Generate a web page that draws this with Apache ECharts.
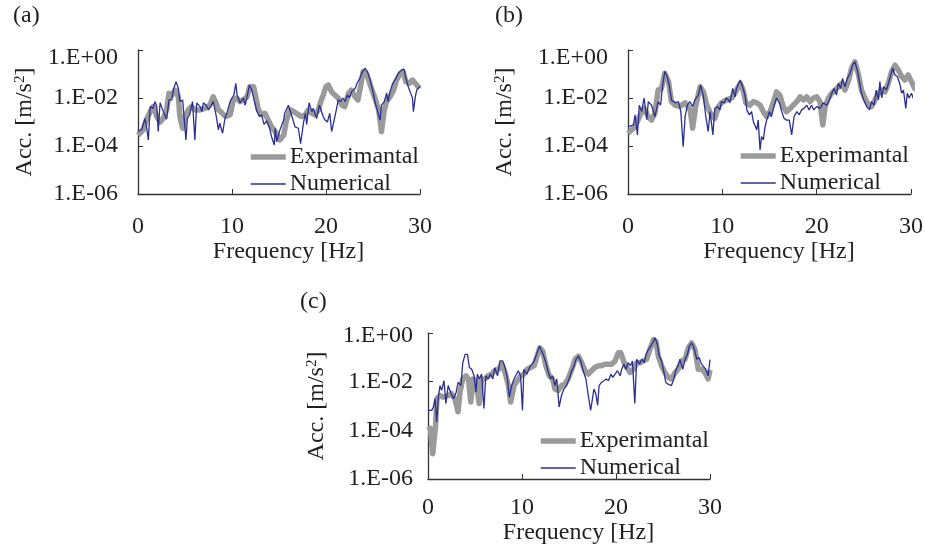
<!DOCTYPE html>
<html><head><meta charset="utf-8">
<script src="https://cdn.jsdelivr.net/npm/echarts@6/dist/echarts.min.js"></script>
<style>html,body{margin:0;padding:0;background:#fff}#c{width:925px;height:549px}</style>
</head><body><div id="c"></div>
<script>
// ---- data ----
const seriesNames = ['Experimantal', 'Numerical'];
const panelLabels = ['(a)', '(b)', '(c)'];
const xTicks = [0, 10, 20, 30];
const yTickLabels = ['1.E-06', '1.E-04', '1.E-02', '1.E+00'];

// Panel (a) [frequency Hz, acceleration m/s2]
const aExperimental = [[0,2.8e-4],[0.55,4.7e-4],[0.9,1.26e-3],[1.3,2.7e-3],[1.6,4.4e-3],[2.0,1.7e-3],[2.35,1e-3],[2.7,1.4e-3],[3.05,3.2e-3],[3.3,0.0158],[3.6,0.0132],[3.95,0.0214],[4.3,0.0112],[4.45,1.7e-3],[4.75,5.5e-4],[5.0,1.7e-3],[5.35,3.2e-3],[5.7,4.4e-3],[6.05,3.2e-3],[6.6,3.2e-3],[7.1,3.7e-3],[7.65,5e-3],[8.0,0.0112],[8.3,6.3e-3],[8.55,3.2e-3],[8.8,2.7e-3],[9.1,2e-3],[9.4,1.7e-3],[9.8,2e-3],[10.15,8.3e-3],[10.5,0.01],[10.85,7.1e-3],[11.2,8.3e-3],[11.6,0.0112],[11.9,0.0295],[12.3,0.0295],[12.55,0.01],[12.8,3.2e-3],[13.15,2e-3],[13.5,2.3e-3],[13.9,1.1e-3],[14.2,6.3e-4],[14.6,4e-4],[15.1,1.8e-4],[15.5,2.8e-4],[15.8,1.2e-3],[16.17,3.2e-3],[16.6,2.7e-3],[17.06,2e-3],[17.4,1.7e-3],[17.8,2e-3],[18.1,3.2e-3],[18.5,2.3e-3],[18.8,2e-3],[19.2,3.2e-3],[19.4,6.3e-3],[19.7,0.0132],[20.0,0.0295],[20.25,0.0347],[20.6,0.018],[20.95,0.0132],[21.3,0.01],[21.7,5e-3],[22.0,4.4e-3],[22.4,0.0158],[22.7,0.0214],[23.1,0.0112],[23.4,8.3e-3],[23.7,0.0347],[23.95,0.126],[24.3,0.107],[24.6,0.048],[24.9,0.0214],[25.2,0.01],[25.6,3.2e-3],[25.9,4e-4],[26.2,3.2e-3],[26.45,7.1e-3],[26.8,0.0112],[27.2,0.0214],[27.5,0.056],[27.9,0.107],[28.2,0.126],[28.5,0.048],[28.85,0.041],[29.2,0.056],[29.65,0.0347],[29.95,0.025]];
const aNumerical = [[0,4e-4],[0.4,5e-4],[0.75,1.4e-3],[0.9,6.3e-4],[1.1,1.8e-4],[1.3,4.4e-3],[1.45,5e-3],[1.6,3.7e-3],[1.8,7.1e-3],[2.0,4.4e-3],[2.15,4e-4],[2.35,6.3e-3],[2.7,2.7e-3],[3.05,1.3e-3],[3.3,8.3e-3],[3.6,8.3e-3],[3.75,0.0214],[4.05,0.048],[4.3,0.025],[4.45,7.1e-3],[4.75,8.3e-3],[5.1,1.8e-4],[5.25,1.4e-3],[5.5,2e-3],[5.8,7.1e-3],[6.05,1.8e-4],[6.25,6.3e-3],[6.6,4.4e-3],[6.8,2.7e-3],[6.95,6.3e-3],[7.25,5e-3],[7.5,3.2e-3],[7.8,5e-3],[8.0,7.1e-3],[8.3,2e-3],[8.55,4.7e-4],[8.7,8.9e-4],[9.0,3.4e-4],[9.25,1.4e-3],[9.5,2.7e-3],[9.8,7.1e-3],[10.0,0.01],[10.2,0.0132],[10.4,0.041],[10.55,0.0132],[10.85,6.3e-3],[11.2,0.01],[11.4,5e-3],[11.6,0.0112],[11.85,0.0347],[12.1,0.0214],[12.35,8.3e-3],[12.6,3.2e-3],[12.9,1.7e-3],[13.15,2e-3],[13.4,7.9e-4],[13.7,1.1e-3],[14.0,5.5e-4],[14.2,2.5e-4],[14.4,2.5e-4],[14.5,1.1e-4],[14.6,5.5e-4],[14.75,1.5e-4],[15.1,4.7e-4],[15.5,1.2e-3],[15.6,2.3e-3],[16.0,5e-3],[16.17,5e-3],[16.45,1.4e-3],[16.7,6.3e-4],[17.06,5.5e-4],[17.3,1.26e-4],[17.6,8.9e-4],[17.8,2.3e-3],[17.95,7.9e-4],[18.2,6.3e-3],[18.5,2.7e-3],[18.65,3.7e-3],[19.0,1.4e-3],[19.3,5e-3],[19.4,4.4e-3],[19.7,1.7e-3],[19.9,1.2e-3],[20.15,1e-3],[20.4,2.3e-3],[20.6,4e-4],[20.8,8.9e-4],[20.95,1.7e-3],[21.1,3.2e-3],[21.3,8.3e-3],[21.55,7.1e-3],[21.8,0.01],[22.0,7.1e-3],[22.3,0.0132],[22.5,0.01],[22.7,0.018],[23.1,0.025],[23.3,0.041],[23.6,0.066],[23.9,0.126],[24.15,0.174],[24.4,0.126],[24.7,0.056],[25.0,0.018],[25.2,7.1e-3],[25.45,3.2e-3],[25.75,1.2e-3],[25.9,5e-3],[26.2,7.1e-3],[26.45,0.0158],[26.6,7.1e-3],[26.8,0.018],[27.1,0.041],[27.45,0.066],[27.7,0.107],[28.05,0.148],[28.3,0.158],[28.5,0.066],[28.75,0.0295],[28.95,0.018],[29.2,0.01],[29.3,2.7e-3],[29.5,0.0112],[29.65,0.0214],[29.8,0.018],[30.0,0.03]];

// Panel (b)
const bExperimental = [[0,3.4e-4],[0.75,6.3e-4],[1.3,2e-3],[1.7,3.7e-3],[2.15,1.66e-3],[2.5,1.2e-3],[2.85,2.3e-3],[3.2,0.0214],[3.55,0.025],[3.9,0.107],[4.3,0.048],[4.6,7.1e-3],[5.0,5e-3],[5.5,4.4e-3],[6.05,6.3e-3],[6.6,3.2e-3],[6.85,5.5e-4],[7.2,5e-3],[7.65,0.0295],[8.0,0.018],[8.35,5e-3],[8.75,2.3e-3],[9.2,1.4e-3],[9.6,4.4e-3],[9.9,6.3e-3],[10.45,8.3e-3],[11.0,0.01],[11.5,0.0214],[11.9,0.041],[12.2,0.0214],[12.5,6.3e-3],[12.9,5e-3],[13.3,7.1e-3],[13.65,6.3e-3],[14.0,5e-3],[14.35,2.7e-3],[14.7,1.66e-3],[15.05,2.7e-3],[15.4,6.3e-3],[15.75,0.018],[16.1,0.0132],[16.45,4.4e-3],[16.8,2.7e-3],[17.2,3.7e-3],[17.5,5e-3],[17.9,7.1e-3],[18.25,0.0112],[18.6,8.3e-3],[18.95,0.0112],[19.3,7.1e-3],[19.65,0.01],[20.0,0.0112],[20.35,7.1e-3],[20.65,7.6e-4],[20.9,4.4e-3],[21.25,0.01],[21.6,0.0158],[21.95,0.0214],[22.3,0.0295],[22.65,0.041],[23.0,0.0214],[23.35,0.048],[23.7,0.174],[24.05,0.324],[24.4,0.107],[24.75,0.0214],[25.1,0.01],[25.5,5e-3],[25.8,4.4e-3],[26.2,8.3e-3],[26.55,0.0158],[26.9,0.0214],[27.25,0.018],[27.6,0.041],[27.95,0.126],[28.3,0.234],[28.65,0.148],[29.0,0.079],[29.35,0.056],[29.7,0.091],[30.05,0.048],[30.4,0.025],[30.8,0.0347],[31.2,0.018]];
const bNumerical = [[0,6.3e-4],[0.57,7.6e-4],[0.75,2e-3],[1.0,2.9e-4],[1.2,5e-3],[1.45,2.7e-3],[1.7,0.01],[2.0,1.26e-3],[2.15,7.1e-3],[2.5,5e-3],[2.85,1.66e-3],[3.2,7.1e-3],[3.45,5e-3],[3.7,0.041],[3.9,0.126],[4.15,0.079],[4.4,0.0295],[4.6,8.3e-3],[5.0,6.3e-3],[5.35,7.1e-3],[5.6,2.7e-3],[5.85,9.3e-5],[6.05,1.66e-3],[6.3,5e-3],[6.55,7.1e-3],[6.85,4.4e-3],[7.1,8.3e-3],[7.45,0.0132],[7.7,0.0347],[8.0,0.0112],[8.25,1.66e-3],[8.5,4e-4],[8.7,2.7e-3],[9.0,2.9e-4],[9.2,3.7e-3],[9.5,4.4e-3],[9.75,3.2e-3],[9.9,7.1e-3],[10.2,6.3e-3],[10.4,0.01],[10.65,8.3e-3],[10.8,6.3e-3],[11.1,0.025],[11.35,0.0112],[11.5,0.025],[11.9,0.056],[12.15,0.0295],[12.4,0.0132],[12.6,3.2e-3],[12.85,2e-3],[13.1,2.7e-3],[13.3,1e-3],[13.45,1.2e-3],[13.65,4.7e-4],[13.8,1.2e-3],[14.0,6.8e-5],[14.15,2.5e-4],[14.35,1.8e-4],[14.5,5.5e-4],[14.7,1.2e-3],[15.0,2.7e-3],[15.2,1.66e-3],[15.5,5e-3],[15.75,0.01],[16.05,6.3e-3],[16.3,2.7e-3],[16.55,1.4e-3],[16.8,1.2e-3],[17.1,1.2e-3],[17.35,2.9e-4],[17.6,1.66e-3],[17.9,2.7e-3],[18.15,2e-3],[18.4,3.2e-3],[18.65,3.7e-3],[18.95,5e-3],[19.2,3.2e-3],[19.45,5e-3],[19.7,3.2e-3],[20.0,4.4e-3],[20.35,3.7e-3],[20.7,6.3e-3],[21.05,5e-3],[21.35,8.3e-3],[21.6,0.0158],[21.85,0.025],[22.1,0.0132],[22.3,0.041],[22.55,0.025],[22.75,0.066],[23.0,0.0295],[23.25,0.066],[23.55,0.107],[23.8,0.234],[24.05,0.324],[24.3,0.148],[24.5,0.056],[24.75,0.0158],[25.0,8.3e-3],[25.3,4.4e-3],[25.6,3.2e-3],[25.8,7.1e-3],[26.1,5e-3],[26.3,0.0214],[26.55,8.3e-3],[26.7,0.048],[26.9,0.01],[27.1,0.0295],[27.4,0.0214],[27.75,0.066],[28.05,0.174],[28.3,0.091],[28.55,0.079],[28.85,0.0347],[29.0,0.0158],[29.2,0.0214],[29.45,3.7e-3],[29.6,0.0158],[29.8,0.01],[30.05,0.0158],[30.3,8.3e-3],[30.6,0.0112],[30.9,8.3e-3],[31.2,6e-3],[31.4,2.5e-3]];

// Panel (c)
const cExperimental = [[0,1e-4],[0.25,1.2e-4],[0.5,1.1e-5],[0.8,1.5e-4],[0.95,2e-3],[1.28,2.7e-3],[1.6,2.3e-3],[2.15,2.7e-3],[2.5,3.2e-3],[2.85,2e-3],[3.2,5.8e-4],[3.4,3.7e-3],[3.7,0.0129],[4.05,0.0174],[4.3,0.0129],[4.55,1.45e-3],[4.8,0.0129],[5.1,0.011],[5.45,1.26e-3],[5.7,0.0129],[6.05,0.0129],[6.4,0.0174],[6.75,0.0204],[7.1,0.0282],[7.5,0.0324],[7.85,0.0525],[8.2,0.024],[8.55,6.9e-3],[8.8,1.45e-3],[9.15,6.9e-3],[9.5,0.011],[9.85,0.0174],[10.2,0.0204],[10.55,0.0324],[10.9,0.038],[11.3,0.0447],[11.55,0.098],[11.9,0.245],[12.2,0.182],[12.55,0.0447],[12.9,0.0174],[13.25,0.0129],[13.5,5e-3],[13.85,4.4e-3],[14.2,6.9e-3],[14.55,7.9e-3],[14.9,0.0129],[15.3,0.0324],[15.65,0.083],[16.0,0.112],[16.35,0.06],[16.7,0.0282],[17.05,0.0204],[17.4,0.0282],[17.75,0.038],[18.1,0.0447],[18.45,0.0447],[18.8,0.0525],[19.2,0.0525],[19.55,0.0525],[19.9,0.071],[20.25,0.155],[20.5,0.155],[20.8,0.071],[21.15,0.038],[21.5,0.024],[21.85,0.0324],[22.2,0.06],[22.55,0.06],[22.9,0.071],[23.25,0.083],[23.6,0.209],[24.0,0.537],[24.25,0.457],[24.5,0.112],[24.85,0.0447],[25.2,0.024],[25.55,0.0151],[25.9,0.0129],[26.3,0.024],[26.6,0.0324],[27.0,0.071],[27.35,0.083],[27.7,0.245],[28.05,0.389],[28.4,0.209],[28.75,0.0324],[29.1,0.0324],[29.45,0.024],[29.8,0.0129],[30.0,0.03]];
const cNumerical = [[0,6.6e-4],[0.4,6.6e-4],[0.57,9.1e-4],[0.75,2e-3],[0.92,2.2e-4],[1.1,2.3e-3],[1.28,6.9e-3],[1.45,4.4e-3],[1.7,0.011],[1.9,1.26e-3],[2.15,6.9e-3],[2.4,3.7e-3],[2.7,2e-3],[3.0,3.7e-3],[3.2,9.3e-3],[3.5,6.9e-3],[3.7,0.06],[3.95,0.132],[4.2,0.132],[4.4,0.038],[4.65,0.0324],[4.9,0.0174],[5.1,3.7e-3],[5.25,0.0204],[5.45,0.0129],[5.7,0.0204],[5.95,7.9e-4],[6.15,0.0174],[6.4,0.0129],[6.65,0.0204],[6.9,0.0129],[7.1,0.038],[7.4,0.0174],[7.65,0.071],[7.95,0.071],[8.2,0.038],[8.45,0.0129],[8.65,2.3e-3],[8.9,6.9e-3],[9.15,0.0129],[9.35,0.0151],[9.6,0.0282],[9.85,0.0174],[10.05,6.6e-4],[10.2,0.0324],[10.5,0.0204],[10.8,0.038],[11.0,0.0447],[11.3,0.071],[11.55,0.132],[11.85,0.288],[12.05,0.288],[12.25,0.132],[12.55,0.06],[12.8,0.024],[13.05,0.0129],[13.25,0.0174],[13.5,6.9e-3],[13.7,0.0129],[13.95,9.1e-4],[14.2,2.7e-3],[14.45,5e-3],[14.75,6.9e-3],[15.0,0.0129],[15.3,0.0282],[15.55,0.0447],[15.75,0.083],[16.0,0.112],[16.25,0.071],[16.5,0.0282],[16.8,0.0129],[17.05,2.7e-3],[17.3,6.6e-4],[17.5,2e-3],[17.65,5e-3],[17.85,3.2e-3],[18.05,1.07e-3],[18.2,6.9e-3],[18.45,9.3e-3],[18.7,0.011],[18.95,0.0129],[19.2,0.011],[19.45,0.0204],[19.65,0.0151],[19.9,0.0204],[20.15,0.0282],[20.45,0.0174],[20.6,0.0324],[20.85,0.0525],[21.05,0.0324],[21.3,0.06],[21.55,0.0447],[21.75,0.071],[22.0,1.26e-3],[22.2,0.083],[22.5,0.0525],[22.75,0.083],[23.0,0.06],[23.2,0.132],[23.45,0.209],[23.7,0.288],[23.9,0.389],[24.15,0.631],[24.4,0.339],[24.6,0.112],[24.85,0.071],[25.1,0.024],[25.3,9.3e-3],[25.55,7.9e-3],[25.9,6.9e-3],[26.15,0.0129],[26.4,0.0324],[26.6,0.0447],[26.8,0.083],[27.1,0.0324],[27.35,0.083],[27.6,0.132],[27.8,0.288],[28.05,0.389],[28.3,0.245],[28.6,0.083],[28.85,0.098],[29.1,0.0525],[29.3,0.06],[29.55,0.0324],[29.8,0.0174],[30.0,0.08]];

// ---- styling ----
const FONT = '"Liberation Serif", "Times New Roman", serif';
const TXT = '#231f20';
const AXC = '#333333';
const GRAY = '#9a9a9a';
const BLUE = '#2b2f91';

const panels = [
  {label: panelLabels[0], exp: aExperimental, num: aNumerical, grid: {left: 138, top: 50, width: 282, height: 144},
   yGap: 101, yMargin: 20, topPad: 16, xMargin: 21, xGap: 40, legend: {left: 248, top: 145}, lab: {left: 13, top: 4}},
  {label: panelLabels[1], exp: bExperimental, num: bNumerical, grid: {left: 628, top: 50, width: 283, height: 144},
   yGap: 111, yMargin: 20, topPad: 16, xMargin: 21, xGap: 40, legend: {left: 738, top: 144}, lab: {left: 495, top: 4}},
  {label: panelLabels[2], exp: cExperimental, num: cNumerical, grid: {left: 428, top: 333, width: 282, height: 146},
   yGap: 99, yMargin: 15, topPad: 6, xMargin: 17, xGap: 40, legend: {left: 538, top: 429}, lab: {left: 300, top: 290}}
];

const option = {
  animation: false,
  backgroundColor: '#ffffff',
  grid: [], xAxis: [], yAxis: [], series: [], legend: [], graphic: []
};

panels.forEach((p, i) => {
  option.grid.push(Object.assign({outerBoundsMode: 'none', containLabel: false}, p.grid));
  option.xAxis.push({
    type: 'value', gridIndex: i, min: xTicks[0], max: xTicks[xTicks.length - 1], interval: 10,
    axisLine: {show: true, lineStyle: {color: AXC, width: 1.3}},
    axisTick: {show: true, inside: true, length: 5, lineStyle: {color: AXC, width: 1}},
    splitLine: {show: false},
    axisLabel: {margin: p.xMargin, color: TXT, fontFamily: FONT, fontSize: 24,
      formatter: v => xTicks.indexOf(v) >= 0 ? String(v) : ''},
    name: 'Frequency [Hz]', nameLocation: 'middle', nameGap: p.xGap,
    nameTextStyle: {color: TXT, fontFamily: FONT, fontSize: 24, padding: [0, 0, 0, 19]}
  });
  option.yAxis.push({
    type: 'log', logBase: 100, gridIndex: i, min: 1e-6, max: 1,
    axisLine: {show: true, lineStyle: {color: AXC, width: 1.3}},
    axisTick: {show: true, inside: true, length: 5, lineStyle: {color: AXC, width: 1}},
    minorTick: {show: false}, splitLine: {show: false},
    axisLabel: {margin: p.yMargin, color: TXT, fontFamily: FONT, fontSize: 24,
      formatter: v => {
        const e = Math.round(Math.log10(v));
        const s = yTickLabels[(e + 6) / 2] || '';
        return e === 0 ? '{t|' + s + '}' : s;
      },
      rich: {t: {padding: [p.topPad, 0, 0, 0], color: TXT, fontFamily: FONT, fontSize: 24}}
    },
    name: 'Acc. [m/s{s|2}]', nameLocation: 'middle', nameRotate: 90, nameGap: p.yGap,
    nameTextStyle: {color: TXT, fontFamily: FONT, fontSize: 24,
      rich: {s: {color: TXT, fontFamily: FONT, fontSize: 15, verticalAlign: 'top', lineHeight: 24}}}
  });
  option.series.push({
    name: seriesNames[0], type: 'line', xAxisIndex: i, yAxisIndex: i, data: p.exp,
    symbol: 'none', showSymbol: false, clip: false, silent: true, z: 2,
    lineStyle: {color: GRAY, width: 5.5, join: 'round', cap: 'butt'}, itemStyle: {color: GRAY}
  });
  option.series.push({
    name: seriesNames[1], type: 'line', xAxisIndex: i, yAxisIndex: i, data: p.num,
    symbol: 'none', showSymbol: false, clip: false, silent: true, z: 3,
    lineStyle: {color: BLUE, width: 1.3}, itemStyle: {color: BLUE}
  });
  option.legend.push({
    data: seriesNames, orient: 'vertical', left: p.legend.left, top: p.legend.top,
    itemWidth: 35, itemHeight: 20, itemGap: 3, padding: 0, selectedMode: false,
    lineStyle: {width: 'inherit', cap: 'butt'}, itemStyle: {opacity: 0, borderWidth: 0},
    textStyle: {color: TXT, fontFamily: FONT, fontSize: 24, padding: [0, 0, 0, -1]}
  });
  option.graphic.push({
    type: 'text', left: p.lab.left, top: p.lab.top, silent: true,
    style: {text: p.label, font: '24px ' + FONT, fill: TXT}
  });
});

const chart = echarts.init(document.getElementById('c'), null, {renderer: 'canvas'});
chart.setOption(option);
</script></body></html>
